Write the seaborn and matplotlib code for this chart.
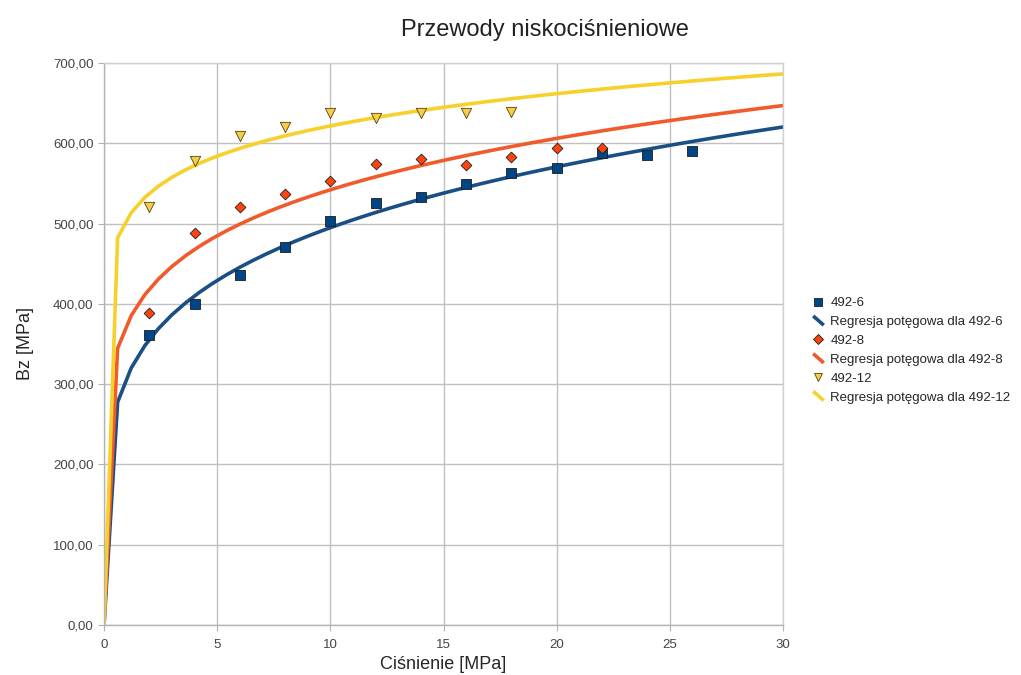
import numpy as np
import pandas as pd
import matplotlib
matplotlib.use('Agg')
import matplotlib.pyplot as plt
import seaborn as sns
from matplotlib.lines import Line2D
from matplotlib.legend_handler import HandlerBase
from matplotlib.ticker import FuncFormatter

# pressure [MPa] and Bz [MPa]
x_6 = [2, 4, 6, 8, 10, 12, 14, 16, 18, 20, 22, 24, 26]
y_6 = [361, 400, 436, 471, 503, 525, 533, 549, 563, 569, 588, 586, 590]

x_8 = [2, 4, 6, 8, 10, 12, 14, 16, 18, 20, 22]
y_8 = [388, 488, 521, 537, 553, 574, 580, 573, 583, 594, 594]

x_12 = [2, 4, 6, 8, 10, 12, 14, 16, 18]
y_12 = [521, 578, 609, 620, 638, 631, 638, 638, 639]

names = ['492-6', '492-8', '492-12']
colors = ['#004586', '#ff420e', '#f2cf4a']
line_colors = ['#1a4f86', '#f15a2b', '#f7d02c']
markers = ['s', 'D', 'v']
msizes = [60, 30, 55]


class DiagLine(HandlerBase):
    # short slanted line like the office legend
    def create_artists(self, legend, orig, xd, yd, w, h, fs, trans):
        ln = Line2D([xd + w * 0.1, xd + w * 0.9], [yd + h * 1.0, yd + h * 0.0],
                    color=orig.get_color(), lw=2.6, solid_capstyle='butt')
        ln.set_transform(trans)
        return [ln]


sns.set_style('white')
plt.rcParams['font.family'] = ['Liberation Sans', 'DejaVu Sans']

fig = plt.figure(figsize=(10.21, 6.75), dpi=100)
ax = fig.add_axes([0.1019, 0.0741, 0.665, 0.8326])

# power regression y = a * x^b, sampled like the office chart does
xs = np.linspace(0, 30, 51)
handles = []
for xd, yd, name, c, lc, m, ms in zip([x_6, x_8, x_12], [y_6, y_8, y_12],
                                       names, colors, line_colors, markers, msizes):
    b, ln_a = np.polyfit(np.log(xd), np.log(yd), 1)
    fit = pd.DataFrame({'x': xs, 'y': np.exp(ln_a) * xs ** b})
    sns.lineplot(data=fit, x='x', y='y', color=lc, lw=2.6, ax=ax, zorder=2)
    df = pd.DataFrame({'x': xd, 'y': yd})
    edge = '#5a4000' if m == 'v' else '#1c1c1c'
    sns.scatterplot(data=df, x='x', y='y', marker=m, s=ms, color=c,
                    edgecolor=edge, linewidth=0.6, ax=ax, zorder=3)
    handles.append(Line2D([], [], ls='none', marker=m, color=c, markeredgecolor=edge,
                          markeredgewidth=0.6, markersize=6 if m != 'D' else 5))
    handles.append(Line2D([], [], color=lc, lw=2.6))

labels = []
for n in names:
    labels += [n, 'Regresja potęgowa dla ' + n]

ax.set_xlim(0, 30)
ax.set_ylim(0, 700)
ax.set_xticks(range(0, 31, 5))
ax.set_yticks(range(0, 701, 100))
ax.yaxis.set_major_formatter(FuncFormatter(lambda v, p: f'{v:.2f}'.replace('.', ',')))
ax.grid(True, color='#c0c0c0', lw=1)
ax.set_axisbelow(True)
for s in ax.spines.values():
    s.set_color('#b3b3b3')
    s.set_linewidth(1)
ax.spines['top'].set_color('#d0d0d0')
ax.spines['right'].set_color('#d0d0d0')
ax.tick_params(axis='both', length=4, color='#b3b3b3', labelcolor='#444444', labelsize=9.5,
               direction='out', left=True, bottom=True)
ax.tick_params(axis='x', pad=6)

ax.set_xlabel('Ciśnienie [MPa]', fontsize=13, labelpad=4)
ax.set_ylabel('Bz [MPa]', fontsize=13, labelpad=14)
fig.text(0.534, 0.955, 'Przewody niskociśnieniowe', ha='center', va='center',
         fontsize=17, color='#222222')

line_handler = DiagLine()
hmap = {h: line_handler for h in handles[1::2]}
fig.legend(handles, labels, loc='center left', bbox_to_anchor=(0.79, 0.481),
           frameon=False, fontsize=9.5, handlelength=1.0, handletextpad=0.4,
           labelspacing=0.5, borderaxespad=0, handler_map=hmap)

plt.savefig('out.png', dpi=100)
